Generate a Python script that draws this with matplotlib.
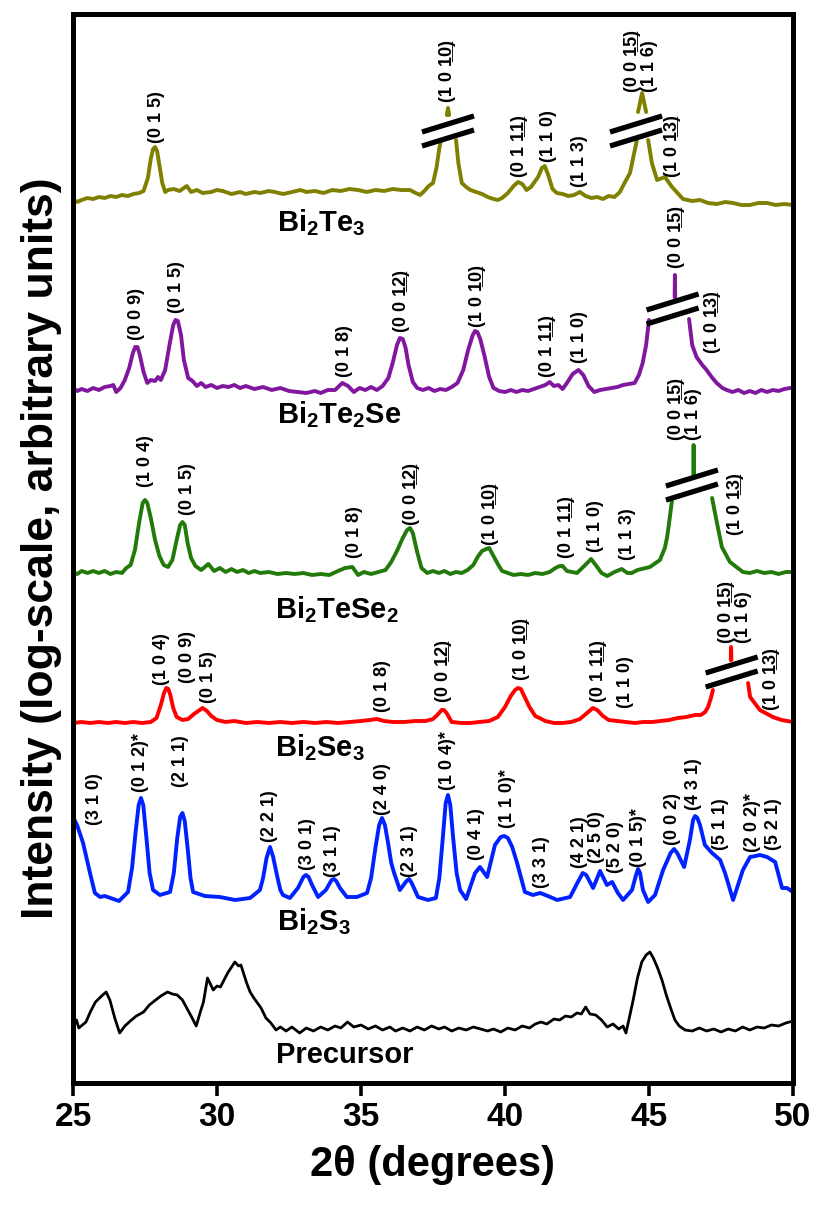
import numpy as np
import matplotlib
matplotlib.use("Agg")
import matplotlib.pyplot as plt

nan = np.nan

# ---------------- diffraction patterns (2theta in degrees, intensity in a.u.) ----------------
bi2te3_2theta = [25.0, 25.15, 25.3, 25.5, 25.7, 25.9, 26.1, 26.3, 26.5, 26.7, 26.9, 27.1, 27.3, 27.45, 27.6, 27.7,
                 27.78, 27.85, 27.92, 28.0, 28.1, 28.2, 28.3, 28.5, 28.7, 28.95, 29.1, 29.3, 29.5, 29.8, 30.0,
                 30.2, 30.5, 30.8, 31.0, 31.3, 31.5, 31.8, 32.0, 32.3, 32.6, 32.9, 33.1, 33.4, 33.7, 34.0, 34.3,
                 34.6, 34.9, 35.2, 35.5, 35.8, 36.1, 36.4, 36.7, 36.9, 37.05, 37.2, 37.35, 37.5, 37.62, 37.72,
                 37.78,
                 nan, 37.98, 38.02, 38.06, nan,
                 38.3, 38.38, 38.5, 38.65, 38.8, 39.0, 39.2, 39.4, 39.6, 39.75, 39.9, 40.1, 40.3, 40.45, 40.6,
                 40.75, 40.9, 41.15, 41.28, 41.38, 41.5, 41.65, 41.8, 42.0, 42.2, 42.4, 42.6, 42.8, 43.0, 43.2,
                 43.4, 43.6, 43.8, 43.99, 44.15, 44.34, 44.51, 44.58,
                 nan, 44.62, 44.76, 44.9, nan,
                 44.97, 45.1, 45.28, 45.55, 45.8, 46.18, 46.5, 46.77, 47.05, 47.36, 47.65, 47.92, 48.2, 48.5,
                 48.8, 49.1, 49.4, 49.7, 50.0]
bi2te3_int = [884, 881, 883, 885, 884, 886, 885, 887, 886, 888, 887, 889, 890, 892, 905, 924,
              934, 936, 932, 918, 900, 891, 893, 894, 892, 897, 891, 893, 890, 891, 893,
              892, 889, 891, 889, 891, 890, 892, 891, 889, 891, 893, 891, 892, 890, 893, 892,
              894, 893, 891, 893, 892, 894, 893, 893, 890, 888, 892, 897, 900, 915, 935,
              943,
              nan, 968, 975, 968, nan,
              943, 920, 900, 896, 893, 891, 889, 886, 884, 883, 885, 890, 897, 901, 899,
              893, 896, 906, 915, 917, 908, 894, 890, 889, 887, 888, 891, 887, 885, 886,
              884, 887, 886, 891, 900, 910, 933, 943,
              nan, 971, 990, 971, nan,
              943, 920, 903, 906, 896, 884, 882, 883, 880, 879, 881, 880, 878, 878,
              880, 880, 878, 879, 878]

bi2te2se_2theta = [25.0, 25.15, 25.3, 25.5, 25.7, 25.9, 26.1, 26.3, 26.4, 26.5, 26.65, 26.8, 26.95, 27.08, 27.16,
                   27.24, 27.32, 27.45, 27.58, 27.7, 27.85, 27.95, 28.05, 28.2, 28.35, 28.48, 28.56, 28.64,
                   28.75, 28.85, 29.0, 29.15, 29.3, 29.45, 29.6, 29.8, 30.0, 30.2, 30.4, 30.6, 30.8, 31.0, 31.3,
                   31.6, 31.9, 32.2, 32.5, 32.8, 33.1, 33.4, 33.6, 33.85, 34.1, 34.35, 34.55, 34.75, 34.95,
                   35.15, 35.35, 35.55, 35.75, 35.95, 36.1, 36.25, 36.35, 36.45, 36.55, 36.65, 36.8, 36.95,
                   37.15, 37.35, 37.55, 37.75, 37.95, 38.15, 38.35, 38.55, 38.72, 38.88, 38.96, 39.04, 39.14,
                   39.28, 39.45, 39.6, 39.8, 40.0, 40.2, 40.4, 40.6, 40.8, 41.0, 41.2, 41.4, 41.55, 41.7, 41.85,
                   42.0, 42.15, 42.35, 42.55, 42.72, 42.9, 43.1, 43.3, 43.5, 43.7, 43.9, 44.1, 44.3, 44.5,
                   44.65, 44.78, 44.9, 45.0,
                   nan, 45.89, 45.9, 45.91, nan,
                   46.39, 46.5, 46.65, 46.85, 47.0, 47.2, 47.35, 47.55, 47.7, 47.9, 48.1, 48.3, 48.5, 48.7,
                   48.9, 49.1, 49.3, 49.5, 49.7, 49.9, 50.0]
bi2te2se_int = [695, 692, 694, 692, 695, 693, 696, 697, 698, 691, 695, 703, 715, 730, 736,
                736, 728, 711, 700, 703, 702, 706, 703, 713, 738, 758, 763, 762,
                748, 723, 705, 702, 697, 700, 696, 698, 695, 697, 696, 698, 695, 697, 694,
                696, 693, 695, 692, 691, 690, 692, 690, 693, 693, 700, 697, 691, 695,
                693, 696, 693, 697, 705, 720, 738, 745, 744, 735, 718, 701, 695,
                693, 695, 692, 694, 693, 696, 700, 713, 733, 748, 752, 751, 744,
                728, 706, 695, 692, 691, 693, 691, 693, 692, 694, 696, 698, 701, 697, 698,
                694, 700, 709, 713, 708, 697, 691, 693, 694, 695, 696, 698, 699, 700,
                708, 720, 738, 763,
                nan, 786, 808, 786, nan,
                764, 738, 726, 718, 713, 705, 700, 695, 693, 691, 693, 690, 692, 690,
                693, 691, 693, 692, 694, 695, 695]

bi2tese2_2theta = [25.0, 25.15, 25.3, 25.5, 25.7, 25.9, 26.1, 26.3, 26.5, 26.7, 26.85, 27.0, 27.15, 27.3, 27.42,
                   27.5, 27.58, 27.7, 27.85, 28.0, 28.15, 28.3, 28.45, 28.6, 28.72, 28.8, 28.88, 28.98, 29.1,
                   29.25, 29.45, 29.7, 29.9, 30.1, 30.3, 30.5, 30.7, 30.9, 31.1, 31.3, 31.5, 31.8, 32.1, 32.4,
                   32.7, 33.0, 33.3, 33.6, 33.9, 34.2, 34.45, 34.7, 34.9, 35.1, 35.35, 35.6, 35.85, 36.05,
                   36.25, 36.45, 36.6, 36.7, 36.8, 36.95, 37.1, 37.3, 37.5, 37.7, 37.9, 38.1, 38.3, 38.5, 38.7,
                   38.9, 39.05, 39.2, 39.35, 39.45, 39.6, 39.75, 39.9, 40.1, 40.3, 40.55, 40.8, 41.05, 41.3,
                   41.55, 41.75, 41.9, 42.0, 42.15, 42.5, 42.75, 42.99, 43.15, 43.35, 43.55, 43.8, 44.05,
                   44.25, 44.4, 44.6, 45.03, 45.38, 45.55, 45.63, 45.72, 45.8,
                   nan, 46.54, 46.55, 46.56, nan,
                   47.19, 47.36, 47.53, 47.81, 48.26, 48.5, 48.75, 49.0, 49.25, 49.5, 49.75, 50.0]
bi2tese2_int = [511, 509, 512, 510, 512, 510, 512, 509, 511, 510, 515, 518, 533, 561, 580,
                583, 580, 565, 543, 527, 518, 516, 523, 543, 558, 561, 558, 540, 525,
                517, 513, 519, 512, 515, 511, 514, 511, 513, 510, 512, 510, 511, 509, 510,
                509, 510, 508, 509, 508, 512, 515, 516, 508, 511, 509, 511, 513, 521,
                532, 545, 553, 555, 550, 531, 515, 510, 512, 510, 512, 509, 511, 510, 513,
                518, 526, 532, 534, 535, 527, 519, 512, 510, 508, 509, 508, 510, 509,
                511, 515, 517, 517, 512, 510, 517, 524, 518, 510, 507, 511, 514,
                510, 510, 513, 516, 523, 535, 546, 565, 583,
                nan, 608, 638, 608, nan,
                585, 560, 536, 521, 511, 510, 512, 510, 511, 509, 511, 511]

bi2se3_2theta = [25.0, 25.3, 25.6, 25.9, 26.2, 26.5, 26.8, 27.1, 27.4, 27.7, 27.9, 28.05, 28.16, 28.24, 28.31,
                 28.38, 28.48, 28.6, 28.8, 29.0, 29.2, 29.35, 29.5, 29.65, 29.8, 30.0, 30.3, 30.6, 31.0, 31.4,
                 31.8, 32.2, 32.6, 33.0, 33.4, 33.8, 34.2, 34.6, 35.0, 35.3, 35.55, 35.8, 36.1, 36.5, 36.9,
                 37.25, 37.5, 37.65, 37.8, 37.88, 37.97, 38.15, 38.5, 38.8, 39.1, 39.45, 39.75, 40.0, 40.2,
                 40.35, 40.45, 40.55, 40.65, 40.85, 41.05, 41.2, 41.4, 41.7, 42.0, 42.3, 42.6, 42.85, 43.05,
                 43.2, 43.4, 43.6, 43.9, 44.2, 44.5, 44.8, 45.1, 45.4, 45.7, 46.0, 46.3, 46.6, 46.8, 46.95,
                 47.05, 47.15, 47.22,
                 nan, 47.84, 47.85, 47.86, nan,
                 48.44, 48.51, 48.85, 49.3, 49.6, 50.0]
bi2se3_int = [360, 361, 360, 361, 360, 361, 360, 361, 360, 361, 365, 378, 390, 395, 394,
              388, 375, 366, 363, 364, 369, 372, 375, 372, 367, 363, 361, 362, 360, 361,
              360, 361, 360, 361, 360, 361, 360, 361, 362, 363, 364, 362, 361, 361, 362,
              362, 364, 368, 373, 373, 370, 361, 360, 360, 361, 362, 366, 376, 387,
              393, 395, 394, 388, 376, 367, 365, 362, 360, 360, 361, 364, 370, 375,
              373, 367, 363, 362, 361, 360, 361, 361, 362, 363, 365, 366, 368, 368, 371,
              376, 385, 393,
              nan, 423, 436, 423, nan,
              400, 386, 373, 366, 363, 361]

bi2s3_2theta = [25.0, 25.14, 25.35, 25.59, 25.76, 25.94, 26.1, 26.3, 26.5, 26.6, 26.91, 27.05, 27.17, 27.28,
                27.36, 27.44, 27.55, 27.66, 27.78, 28.02, 28.37, 28.5, 28.62, 28.72, 28.8, 28.88, 28.98, 29.08,
                29.17, 29.58, 30.1, 30.63, 31.15, 31.49, 31.6, 31.72, 31.84, 31.95, 32.08, 32.2, 32.29, 32.53,
                32.81, 33.0, 33.09, 33.18, 33.3, 33.51, 33.78, 33.98, 34.06, 34.14, 34.27, 34.51, 34.86,
                35.21, 35.35, 35.5, 35.63, 35.73, 35.83, 35.94, 36.05, 36.15, 36.35, 36.58, 36.67, 36.76,
                36.98, 37.33, 37.6, 37.72, 37.84, 37.94, 38.02, 38.1, 38.2, 38.32, 38.44, 38.65, 38.96,
                39.13, 39.38, 39.65, 39.85, 39.97, 40.1, 40.25, 40.42, 40.69, 40.97, 41.22, 41.49, 41.81,
                42.26, 42.53, 42.7, 42.82, 43.06, 43.3, 43.54, 43.72, 43.92, 44.1, 44.41, 44.55, 44.62,
                44.69, 44.79, 44.97, 45.21, 45.49, 45.75, 45.87, 45.98, 46.22, 46.42, 46.53, 46.6, 46.68,
                46.77, 46.94, 47.19, 47.47, 47.64, 47.92, 48.26, 48.51, 48.7, 48.85, 49.1, 49.38, 49.62,
                49.79, 50.0]
bi2s3_int = [266, 258, 240, 210, 190, 186, 187, 185, 183, 182, 191, 215, 250, 278,
             285, 278, 245, 210, 193, 188, 191, 210, 245, 266, 270, 262, 235, 205,
             191, 187, 186, 183, 185, 193, 205, 225, 236, 226, 208, 193, 188, 185,
             195, 206, 208, 206, 198, 186, 193, 203, 204, 202, 195, 186, 186,
             190, 205, 235, 258, 265, 258, 240, 220, 210, 193, 202, 204, 200,
             186, 183, 185, 205, 245, 280, 288, 278, 245, 210, 193, 184, 210,
             216, 206, 238, 246, 247, 245, 236, 220, 191, 188, 190, 187, 183,
             186, 201, 210, 208, 195, 212, 198, 201, 190, 183, 193, 208, 214,
             210, 193, 181, 188, 213, 230, 234, 230, 216, 243, 263, 267, 265,
             258, 238, 230, 223, 210, 183, 213, 226, 227, 228, 226, 221, 195,
             195, 191]

precursor_2theta = [25.0, 25.12, 25.2, 25.45, 25.6, 25.78, 26.03, 26.15, 26.28, 26.45, 26.62, 26.8, 27.03, 27.2,
                    27.45, 27.65, 27.87, 28.05, 28.28, 28.45, 28.62, 28.8, 28.95, 29.1, 29.28, 29.42, 29.53,
                    29.67, 29.87, 30.0, 30.12, 30.37, 30.62, 30.75, 30.83, 31.03, 31.15, 31.28, 31.53, 31.7,
                    31.87, 32.05, 32.2, 32.4, 32.6, 32.87, 33.1, 33.35, 33.6, 33.85, 34.1, 34.3, 34.53, 34.75,
                    35.0, 35.25, 35.5, 35.75, 36.0, 36.2, 36.45, 36.7, 36.95, 37.2, 37.45, 37.7, 37.9, 38.15,
                    38.4, 38.65, 38.9, 39.15, 39.4, 39.6, 39.85, 40.1, 40.35, 40.6, 40.85, 41.05, 41.25, 41.45,
                    41.7, 41.9, 42.1, 42.3, 42.5, 42.65, 42.8, 42.95, 43.15, 43.35, 43.55, 43.75, 43.95, 44.1,
                    44.2, 44.3, 44.45, 44.6, 44.75, 44.9, 45.03, 45.15, 45.3, 45.45, 45.6, 45.75, 45.9, 46.05,
                    46.25, 46.5, 46.75, 47.0, 47.25, 47.5, 47.75, 48.0, 48.25, 48.5, 48.75, 49.0, 49.25, 49.5,
                    49.75, 50.0]
precursor_int = [61, 63, 55, 61, 71, 81, 88, 91, 83, 65, 50, 57, 63, 67,
                 71, 78, 83, 87, 91, 89, 88, 83, 75, 67, 57, 71, 81,
                 105, 93, 97, 96, 110, 121, 117, 118, 100, 91, 85, 75, 65,
                 60, 53, 56, 52, 56, 50, 55, 52, 56, 53, 57, 55, 61, 56,
                 58, 54, 57, 53, 56, 52, 55, 52, 56, 53, 57, 54, 56, 52,
                 55, 53, 56, 54, 52, 54, 51, 55, 53, 57, 55, 59, 61, 59,
                 64, 63, 67, 66, 70, 69, 76, 69, 68, 63, 56, 59, 54, 57,
                 50, 63, 83, 105, 121, 128, 131, 125, 115, 103, 88, 75, 63, 57,
                 53, 52, 55, 52, 54, 51, 54, 52, 56, 53, 56, 55, 58, 57,
                 60, 62]

sample_names = [r"$\mathrm{Bi_2Te_3}$", r"$\mathrm{Bi_2Te_2Se}$", r"$\mathrm{Bi_2TeSe_2}$",
                r"$\mathrm{Bi_2Se_3}$", r"$\mathrm{Bi_2S_3}$", "Precursor"]


def ul(s):
    """Underline a string with combining low lines."""
    return "".join(c + "\u0332" for c in s)


# Miller indices: (2theta, label bottom in a.u., text)
hkl_bi2te3 = [(27.9, 940, "(0 1 5)"), (38.0, 981, "(1 0 " + ul("10") + ")"),
              (40.5, 906, "(0 1 " + ul("11") + ")"), (41.5, 921, "(1 1 0)"), (42.6, 896, "(1 1 3)"),
              (44.72, 991, "(0 0 " + ul("15") + ")\n(1 1 6)"), (45.8, 906, "(1 0 " + ul("13") + ")")]
hkl_bi2te2se = [(27.22, 743, "(0 0 9)"), (28.6, 770, "(0 1 5)"), (34.44, 706, "(0 1 8)"),
                (36.41, 751, "(0 0 " + ul("12") + ")"), (39.03, 756, "(1 0 " + ul("10") + ")"),
                (41.49, 706, "(0 1 " + ul("11") + ")"), (42.6, 720, "(1 1 0)"),
                (45.94, 815, "(0 0 " + ul("15") + ")"), (47.19, 730, "(1 0 " + ul("13") + ")")]
hkl_bi2tese2 = [(27.5, 596, "(1 0 4)"), (28.99, 568, "(0 1 5)"), (34.79, 525, "(0 1 8)"),
                (36.77, 558, "(0 0 " + ul("12") + ")"), (39.48, 538, "(1 0 " + ul("10") + ")"),
                (42.15, 525, "(0 1 " + ul("11") + ")"), (43.13, 531, "(1 1 0)"), (44.27, 523, "(1 1 3)"),
                (46.25, 643, "(0 0 " + ul("15") + ")\n(1 1 6)"), (47.99, 548, "(1 0 " + ul("13") + ")")]
hkl_bi2se3 = [(28.09, 398, "(1 0 4)"), (28.99, 400, "(0 0 9)"), (29.69, 380, "(0 1 5)"),
              (35.73, 371, "(0 1 8)"), (37.85, 381, "(0 0 " + ul("12") + ")"),
              (40.59, 403, "(1 0 " + ul("10") + ")"), (43.23, 381, "(0 1 " + ul("11") + ")"),
              (44.17, 375, "(1 1 0)"), (47.99, 440, "(0 0 " + ul("15") + ")\n(1 1 6)"),
              (49.27, 373, "(1 0 " + ul("13") + ")")]
hkl_bi2s3 = [(25.76, 258, "(3 1 0)"), (27.33, 291, "(0 1 2)*"), (28.72, 296, "(2 1 1)"),
             (31.81, 241, "(2 2 1)"), (33.13, 213, "(3 0 1)"), (34.0, 206, "(3 1 1)"),
             (35.73, 268, "(2 4 0)"), (36.7, 206, "(2 3 1)"), (38.02, 293, "(1 0 4)*"),
             (39.0, 223, "(0 4 1)"), (40.07, 255, "(1 1 0)*"), (41.28, 195, "(3 3 1)"),
             (42.6, 215, "(4 2 1)"), (43.19, 220, "(2 5 0)"), (43.85, 210, "(5 2 0)"),
             (44.65, 216, "(0 1 5)*"), (45.83, 238, "(0 0 2)"), (46.53, 273, "(4 3 1)"),
             (47.47, 233, "(5 1 1)"), (48.58, 231, "(2 0 2)*"), (49.31, 233, "(5 2 1)")]

# ---------------- styling ----------------
plt.rcParams["font.family"] = ["Liberation Sans", "DejaVu Sans"]
plt.rcParams["font.weight"] = "bold"
plt.rcParams["mathtext.fontset"] = "custom"
plt.rcParams["mathtext.rm"] = "Liberation Sans:bold"
plt.rcParams["mathtext.it"] = "Liberation Sans:bold"
plt.rcParams["mathtext.bf"] = "Liberation Sans:bold"

colors = ["#808000", "#80179e", "#217a0a", "#ff0000", "#0022ff", "#000000"]
widths = [2.8, 2.8, 2.8, 2.8, 2.8, 2.0]

fig = plt.figure(figsize=(8.14, 12.10), dpi=100)
ax = fig.add_axes([73 / 814, 127 / 1210, 720 / 814, 1069 / 1210])
ax.set_xlim(25, 50)
ax.set_ylim(0, 1069)

series = [(bi2te3_2theta, bi2te3_int), (bi2te2se_2theta, bi2te2se_int), (bi2tese2_2theta, bi2tese2_int),
          (bi2se3_2theta, bi2se3_int), (bi2s3_2theta, bi2s3_int), (precursor_2theta, precursor_int)]
for (tt, ii), c, lw in zip(series, colors, widths):
    ax.plot(tt, ii, color=c, lw=lw, solid_joinstyle="round", solid_capstyle="round")

# axis-break marks (centre 2theta, height of lower stroke)
breaks = [(38.02, 945), (44.55, 945), (45.82, 767), (46.49, 591), (47.87, 404)]
half_dx = 26 / 28.8
for xc, yc in breaks:
    for off in (0, 14):
        ax.plot([xc - half_dx, xc + half_dx], [yc + off - 8, yc + off + 8], color="black", lw=3.8,
                solid_capstyle="butt")

label_kw = dict(rotation=90, ha="center", va="bottom", fontsize=13, fontweight="bold",
                family=["Liberation Sans", "DejaVu Sans"], multialignment="left", linespacing=1.0)
for group in (hkl_bi2te3, hkl_bi2te2se, hkl_bi2tese2, hkl_bi2se3, hkl_bi2s3):
    for x, y, s in group:
        ax.text(x, y, s, **label_kw)

name_pos = [(32.08, 876), (32.08, 684), (32.01, 489), (32.01, 351), (32.08, 177), (32.04, 42)]
for (x, y), name in zip(name_pos, sample_names):
    ax.text(x, y, name, ha="left", va="top", fontsize=21, fontweight="bold")

ax.set_xticks([25, 30, 35, 40, 45, 50])
ax.set_yticks([])
ax.tick_params(axis="x", direction="out", length=9, width=2.6, pad=5)
for lab in ax.get_xticklabels():
    lab.set_fontsize(24)
    lab.set_fontweight("bold")
for sp in ax.spines.values():
    sp.set_linewidth(3.6)

ax.set_xlabel("2\u03b8 (degrees)", fontsize=30, fontweight="bold", labelpad=8)
ax.set_ylabel("Intensity (log-scale, arbitrary units)", fontsize=32, fontweight="bold", labelpad=8)

fig.savefig("out.png", dpi=100)
